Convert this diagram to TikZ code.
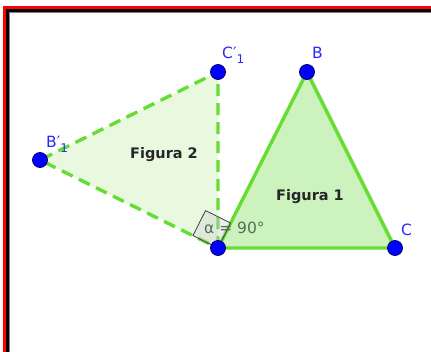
\documentclass[tikz,border=0pt]{standalone}
\usepackage{fontspec}
\setmainfont{DejaVu Sans}
\usetikzlibrary{calc}
\definecolor{ggline}{RGB}{102,221,51}
\definecolor{ggfillA}{RGB}{204,242,190}
\definecolor{ggfillB}{RGB}{232,249,224}
\definecolor{ggpt}{RGB}{0,0,255}
\definecolor{gglbl}{RGB}{40,40,255}
\definecolor{ggang}{RGB}{85,110,85}
\tikzset{
  ptnode/.style={circle, fill=ggpt, draw=black!60!blue, line width=0.8pt, inner sep=0pt, minimum size=15pt},
  lbl/.style={text=gglbl, inner sep=0pt, font=\fontsize{15.5}{16}\selectfont},
  fig/.style={text=black!85, inner sep=0pt, font=\fontsize{14.5}{15}\selectfont\bfseries},
  solidtri/.style={draw=ggline, line width=3.4pt, line join=round, fill=ggfillA},
  dashtri/.style={draw=ggline, line width=3.4pt, dash pattern=on 12pt off 7pt, fill=ggfillB}
}
\begin{document}
\begin{tikzpicture}[x=1pt,y=-1pt]
\useasboundingbox (0,0) rectangle (431,351);
\fill[white] (0,0) rectangle (431,351);
\begin{scope}
\clip (0,0) rectangle (431,351);
\draw[red, line width=3pt] (4.5,7.5) rectangle (470,390);
\draw[black, line width=3pt] (7.5,10.5) rectangle (467,387);
\draw[gray, line width=1pt] (9.5,12.5) rectangle (465,385);
\end{scope}
% coordinates
\coordinate (A) at (218,248);
\coordinate (B) at (307,72);
\coordinate (C) at (395,248);
\coordinate (C1) at (218,72);
\coordinate (B1) at (40,160);
% triangles
\filldraw[dashtri] (A) -- (C1) -- (B1) -- cycle;
\filldraw[solidtri] (A) -- (B) -- (C) -- cycle;
% right angle marker
\coordinate (Q1) at ($(A)!28pt!(B1)$);
\coordinate (Q2) at ($(A)!28pt!(B)$);
\filldraw[draw=black!75, line width=0.8pt, fill=black!20, fill opacity=0.35] (A) -- (Q1) -- ($(Q1)+(Q2)-(A)$) -- (Q2) -- cycle;
% labels
\node[text=ggang, inner sep=0pt, font=\fontsize{15.5}{16}\selectfont, anchor=base west] (alpha) at (204,233) {α = 90°};
\node[fig] (f2) at (164,155) {Figura 2};
\node[fig] (f1) at (310,197) {Figura 1};
% points
\node[ptnode] (pA) at (A) {};
\node[ptnode] (pB) at (B) {};
\node[ptnode] (pC) at (C) {};
\node[ptnode] (pC1) at (C1) {};
\node[ptnode] (pB1) at (B1) {};
\node[lbl, anchor=base west] (lB) at (312,58) {B};
\node[lbl, anchor=base west] (lC) at (401,235) {C};
\node[lbl, anchor=base west] (lC1) at (222,58) {C′\raisebox{-5pt}{\fontsize{12}{12}\selectfont 1}};
\node[lbl, anchor=base west] (lB1) at (46,147) {B′\raisebox{-5pt}{\fontsize{12}{12}\selectfont 1}};
\end{tikzpicture}
\end{document}
